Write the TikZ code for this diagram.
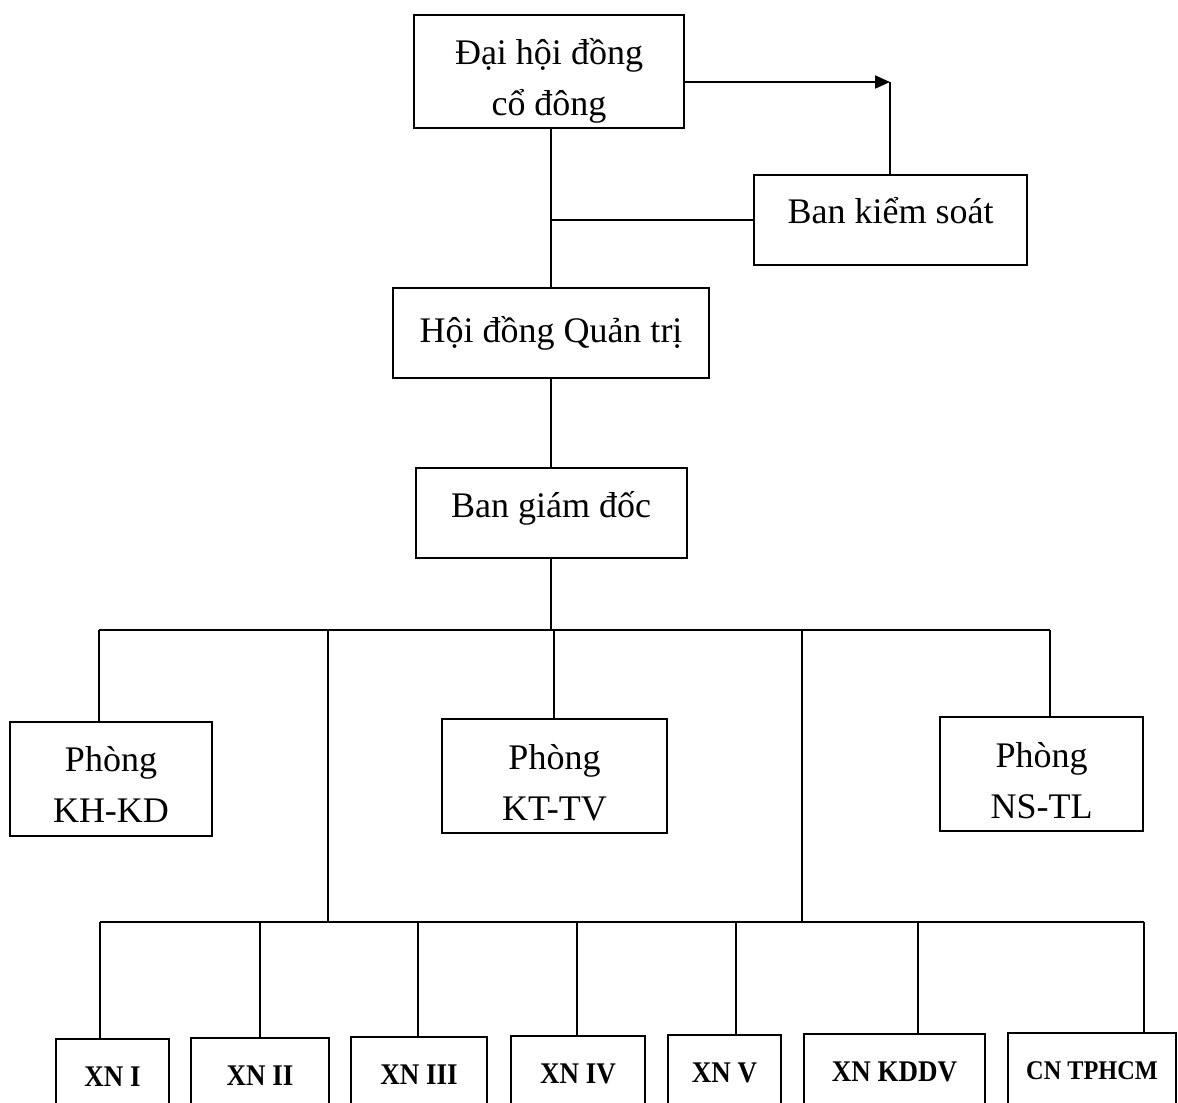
\documentclass[tikz,border=0pt]{standalone}
\usepackage{fontspec}
\setmainfont{Liberation Serif}
\newfontfamily\xnfont{Liberation Serif}[FakeStretch=0.9]
\usetikzlibrary{arrows.meta}
\begin{document}
\begin{tikzpicture}[x=1pt,y=-1pt,
  box/.style={draw, line width=2pt, inner sep=0pt},
  txt/.style={inner sep=0pt, align=center, font=\fontsize{36}{51}\selectfont},
  xnbox/.style={draw, line width=2pt, inner sep=0pt, minimum height=76pt, font=\fontsize{30}{34}\xnfont\bfseries},
  conn/.style={line width=2pt}]
\useasboundingbox (0,0) rectangle (1178,1103);
\clip (0,0) rectangle (1178,1103);

% upper boxes
\node[box, minimum width=270pt, minimum height=113pt] (dh) at (549,71.5) {};
\node[txt] (dht) at ([yshift=-9pt]dh.center) {Đại hội đồng\\cổ đông};
\node[box, minimum width=273pt, minimum height=90pt] (bks) at (890.5,220) {};
\node[txt] (bkst) at ([yshift=9pt]bks.center) {Ban kiểm soát};
\node[box, minimum width=316pt, minimum height=90pt] (hd) at (551,333) {};
\node[txt] (hdt) at (hd.center) {Hội đồng Quản trị};
\node[box, minimum width=271pt, minimum height=90pt] (bgd) at (551,513) {};
\node[txt] (bgdt) at ([yshift=5pt]bgd.center) {Ban giám đốc};

% departments
\node[box, minimum width=202pt, minimum height=114pt] (kh) at (111,779) {};
\node[txt] (kht) at ([yshift=-6pt]kh.center) {Phòng\\KH-KD};
\node[box, minimum width=225pt, minimum height=114pt] (kt) at (554.5,776) {};
\node[txt] (ktt) at ([yshift=-7pt]kt.center) {Phòng\\KT-TV};
\node[box, minimum width=203pt, minimum height=114pt] (ns) at (1041.5,774) {};
\node[txt] (nst) at ([yshift=-7pt]ns.center) {Phòng\\NS-TL};

% enterprises
\node[xnbox, minimum width=113pt] (x1) at (112.5,1077) {XN I};
\node[xnbox, minimum width=138pt] (x2) at (260,1076) {XN II};
\node[xnbox, minimum width=136pt] (x3) at (419,1075) {XN III};
\node[xnbox, minimum width=134pt] (x4) at (578,1074) {XN IV};
\node[xnbox, minimum width=113pt] (x5) at (724.5,1073) {XN V};
\node[xnbox, minimum width=181pt] (x6) at (894.5,1072) {XN KDDV};
\node[xnbox, minimum width=168pt, font=\fontsize{27}{31}\xnfont\bfseries] (x7) at (1092,1071) {CN TPHCM};

% connectors top
\coordinate (ar) at (890,82);
\draw[conn, -{Triangle[length=15pt,width=13pt]}] (dh.east |- ar) -- (ar);
\draw[conn] (890,82) -- (890,0 |- bks.north);
\draw[conn] (dh.south -| hd.north) -- (hd.north);
\draw[conn] (bks.west) -- (bks.west -| hd.north);
\draw[conn] (hd.south) -- (bgd.north);

% upper bus
\coordinate (b1) at (99,630);
\coordinate (b2) at (328,630);
\coordinate (b3) at (554,630);
\coordinate (b4) at (802,630);
\coordinate (b5) at (1050,630);
\draw[conn] (b1) -- (b5);
\draw[conn] (bgd.south) -- (bgd.south |- b1);
\draw[conn] (b1) -- (b1 |- kh.north);
\draw[conn] (b3) -- (b3 |- kt.north);
\draw[conn] (b5) -- (b5 |- ns.north);

% lower bus
\coordinate (c1) at (100,922);
\coordinate (c7) at (1144,922);
\draw[conn] (b2) -- (b2 |- c1);
\draw[conn] (b4) -- (b4 |- c1);
\draw[conn] (c1) -- (c7);
\draw[conn] (c1) -- (c1 |- x1.north);
\draw[conn] (260,922) -- (x2.north);
\draw[conn] (418,922) -- (418,0 |- x3.north);
\draw[conn] (577,922) -- (577,0 |- x4.north);
\draw[conn] (736,922) -- (736,0 |- x5.north);
\draw[conn] (918,922) -- (918,0 |- x6.north);
\draw[conn] (c7) -- (c7 |- x7.north);
\end{tikzpicture}
\end{document}
